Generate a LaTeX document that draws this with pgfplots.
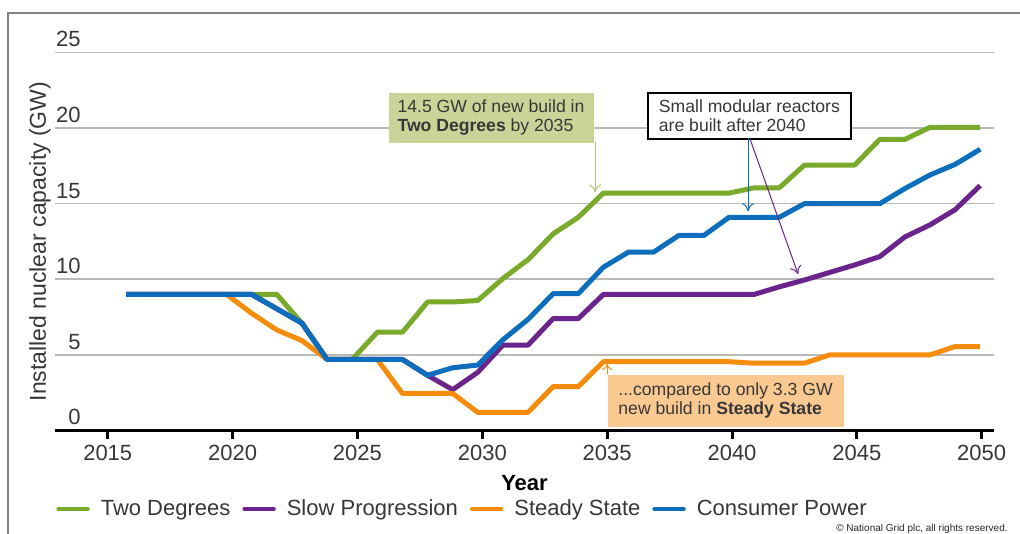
\documentclass[border=0pt]{standalone}
\usepackage{fontspec}
\setmainfont{Liberation Sans}
\usepackage{pgfplots}
\usepackage{pgfplotstable}
\pgfplotsset{compat=1.18}
\usetikzlibrary{arrows.meta}

\definecolor{cGreen}{RGB}{122,170,44}
\definecolor{cPurple}{RGB}{106,36,140}
\definecolor{cOrange}{RGB}{245,140,12}
\definecolor{cBlue}{RGB}{12,110,188}
\definecolor{boxGreen}{RGB}{200,212,152}
\definecolor{arrGreen}{RGB}{182,200,125}
\definecolor{boxOrange}{RGB}{250,201,145}
\definecolor{txt}{RGB}{55,55,55}
\definecolor{frame}{RGB}{130,130,130}

\pgfplotstableread{
year two slow steady consumer
2016 9 9 9 9
2017 9 9 9 9
2018 9 9 9 9
2019 9 9 9 9
2020 9 9 9 9
2021 9 9 7.75 9
2022 9 8.05 6.65 8.05
2023 7.1 7.1 5.95 7.1
2024 4.7 4.7 4.7 4.7
2025 4.7 4.7 4.7 4.7
2026 6.5 4.7 4.7 4.7
2027 6.5 4.7 2.45 4.7
2028 8.5 3.65 2.45 3.65
2029 8.5 2.7 2.45 4.15
2030 8.6 3.85 1.2 4.33
2031 10.05 5.65 1.2 6.0
2032 11.3 5.65 1.2 7.35
2033 13.0 7.4 2.9 9.05
2034 14.1 7.4 2.9 9.05
2035 15.7 9.0 4.55 10.8
2036 15.7 9.0 4.55 11.8
2037 15.7 9.0 4.55 11.8
2038 15.7 9.0 4.55 12.9
2039 15.7 9.0 4.55 12.9
2040 15.7 9.0 4.55 14.1
2041 16.05 9.0 4.45 14.1
2042 16.05 9.5 4.45 14.1
2043 17.55 9.95 4.45 15.0
2044 17.55 10.45 5.0 15.0
2045 17.55 10.95 5.0 15.0
2046 19.25 11.5 5.0 15.0
2047 19.25 12.8 5.0 16.0
2048 20.05 13.6 5.0 16.9
2049 20.05 14.6 5.55 17.6
2050 20.05 16.2 5.55 18.6
}\nucdata

\begin{document}
\begin{tikzpicture}
\begin{axis}[
  at={(0,0)}, anchor=south west,
  scale only axis, width=469.5pt, height=189pt,
  xmin=2013.17, xmax=2050.55, ymin=0, ymax=25,
  axis x line*=bottom, axis y line*=left,
  y axis line style={draw=none},
  x axis line style={line width=1.6pt, black, -},
  xtick={2015.27,2020.24,2025.21,2030.18,2035.15,2040.12,2045.09,2050.06},
  xticklabels={2015,2020,2025,2030,2035,2040,2045,2050},
  x tick style={line width=1.5pt, black},
  major tick length=4pt, tick align=outside,
  ytick={0,5,10,15,20,25},
  y tick style={draw=none},
  ymajorgrids, grid style={line width=0.8pt, gray!55},
  ticklabel style={font=\fontsize{11}{13}\selectfont, text=txt},
  /pgf/number format/assume math mode=true,
  yticklabel style={anchor=south east, inner sep=0pt, xshift=17pt, yshift=2.5pt},
  xlabel={Year},
  xlabel style={font=\bfseries\fontsize{11}{13}\selectfont, at={(axis description cs:0.5,0)}, anchor=base, yshift=-29.75pt, inner sep=0pt},
  ylabel={Installed nuclear capacity (GW)},
  ylabel style={at={(axis description cs:0,0.5)}, anchor=center, yshift=7.5pt, inner sep=0pt, font=\fontsize{11.5}{13}\selectfont, text=txt},
  clip=false,
  legend columns=4,
  legend style={at={(axis description cs:0,0)}, anchor=west, xshift=0.5pt, yshift=-39.25pt,
    draw=none, fill=none, inner sep=0pt, font=\fontsize{11}{13}\selectfont, text=txt,
    nodes={inner sep=0pt},
    /tikz/every odd column/.append style={column sep=5.5pt},
    /tikz/every even column/.append style={column sep=6pt}},
  legend image code/.code={\draw[#1, line width=2.2pt, line cap=round] (0.5pt,0pt) -- (15pt,0pt);},
  every axis plot/.append style={line width=2.5pt, line join=round},
]
\addplot[cGreen] table[x=year, y=two] {\nucdata};
\addlegendentry{Two Degrees}
\addplot[cPurple] table[x=year, y=slow] {\nucdata};
\addlegendentry{Slow Progression}
\addplot[cOrange] table[x=year, y=steady] {\nucdata};
\addlegendentry{Steady State}
\addplot[cBlue] table[x=year, y=consumer] {\nucdata};
\addlegendentry{Consumer Power}

\node[fill=boxGreen, anchor=north west, inner sep=0pt, minimum height=25pt, minimum width=102.5pt,
  align=left, font=\fontsize{8.8}{9.4}\selectfont, text=txt]
  at (axis cs:2026.43,22.37) {14.5 GW of new build in\\\textbf{Two Degrees} by 2035};
\node[fill=white, draw=black, line width=0.8pt, anchor=north west, inner sep=0pt, minimum height=23pt, minimum width=101.5pt,
  align=left, font=\fontsize{8.8}{9.4}\selectfont, text=txt]
  at (axis cs:2036.74,22.37) {Small modular reactors\\are built after 2040};
\node[fill=boxOrange, anchor=north west, inner sep=0pt, minimum height=26pt, minimum width=118pt,
  align=left, font=\fontsize{8.8}{9.4}\selectfont, text=txt]
  at (axis cs:2035.15,3.73) {...compared to only 3.3 GW\\new build in \textbf{Steady State}};

\draw[-{To[length=4pt,width=6pt]}, arrGreen, line width=0.6pt] (axis cs:2034.67,19.07) -- (axis cs:2034.67,15.75);
\draw[-{To[length=4pt,width=6pt]}, cBlue, line width=0.5pt] (axis cs:2040.76,19.33) -- (axis cs:2040.76,14.5);
\draw[-{To[length=4pt,width=6pt]}, cPurple, line width=0.5pt] (axis cs:2040.84,19.27) -- (axis cs:2042.75,10.34);
\draw[-{To[length=3pt,width=5pt]}, cOrange, line width=0.5pt] (axis cs:2035.15,3.73) -- (axis cs:2035.15,4.4);
\end{axis}
\node[anchor=base east, font=\fontsize{5}{6}\selectfont, text=black!85, inner sep=0pt] at (476.5pt,-50.25pt) {© National Grid plc, all rights reserved.};
\draw[frame, line width=1pt] (495pt,208.5pt) -- (-23.5pt,208.5pt) -- (-23.5pt,-60pt);
\pgfresetboundingbox
\path[use as bounding box] (-27.5pt,-51.75pt) rectangle (482.5pt,215.25pt);
\end{tikzpicture}
\end{document}
